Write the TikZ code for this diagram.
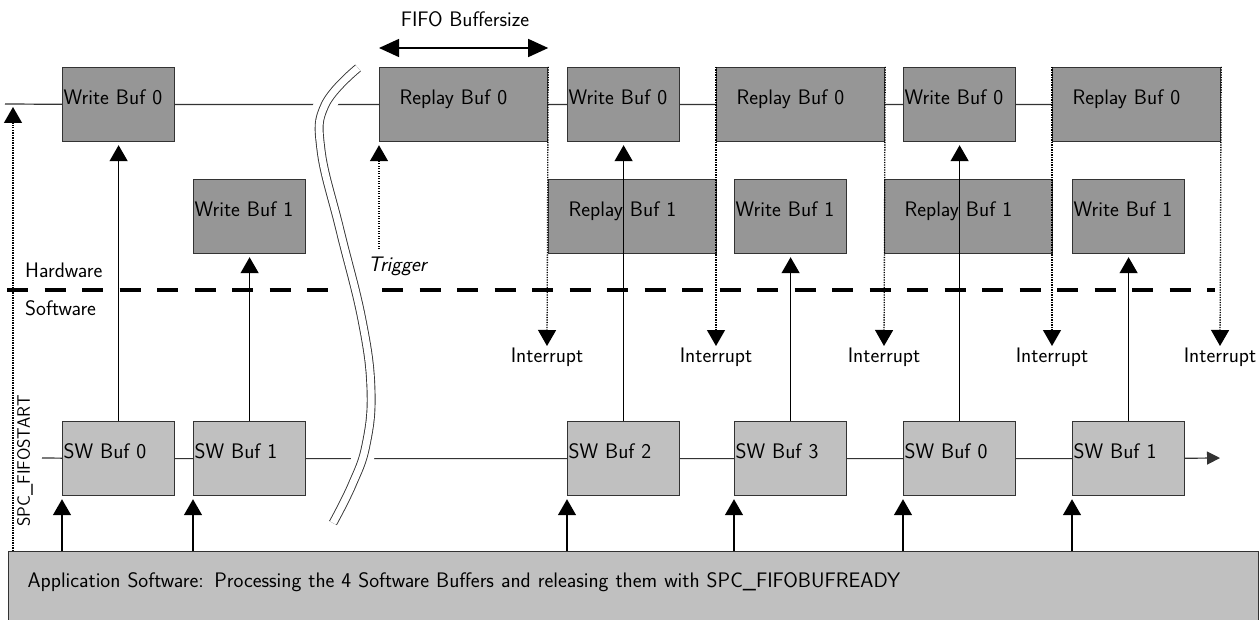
\documentclass[tikz,border=0pt]{standalone}
\usepackage{tikz}
\usetikzlibrary{arrows.meta}
\definecolor{hwfill}{HTML}{969696}
\definecolor{swfill}{HTML}{C0C0C0}
\definecolor{edgeclr}{HTML}{333333}
\newcommand\diafont{\fontsize{21}{25}\selectfont\sffamily}
\tikzset{
  buf/.style     = {draw=edgeclr,line width=1.2pt,anchor=north west,
                    minimum height=74pt,align=left,text height=0pt,
                    text depth=0pt,font=\diafont},
  wbuf/.style    = {buf,fill=hwfill,inner xsep=1pt,text width=110pt},
  rbuf/.style    = {buf,fill=hwfill,inner xsep=20pt,text width=128pt},
  swbuf/.style   = {buf,fill=swfill,inner xsep=1pt,text width=110pt},
  appbox/.style  = {buf,fill=swfill,inner xsep=19pt,text width=1212pt,
                    minimum height=72pt},
  lbl/.style     = {font=\diafont,inner sep=1pt},
  tline/.style   = {draw=edgeclr,line width=1.2pt},
  sig/.style     = {-{Triangle[length=16pt,width=18pt]},line width=1.4pt,
                    shorten >=3pt},
  irq/.style     = {-{Triangle[length=16pt,width=18pt]},line width=1.3pt,
                    dash pattern=on 1.2pt off 1.3pt},
  sizearr/.style = {{Triangle[length=20pt,width=18pt]}-{Triangle[length=20pt,width=18pt]},
                    line width=1.4pt},
  sepline/.style = {line width=4.5pt,dash pattern=on 21pt off 16.5pt},
}

\begin{document}
\begin{tikzpicture}[x=1pt,y=-1pt]
    \useasboundingbox (0,0) rectangle (1260,620);
    \clip (0,0) rectangle (1260,620);
    % hardware buffers
    \node[wbuf] (wA)  at (62,67)   {Write Buf 0};
    \node[rbuf] (rA)  at (379,67)  {Replay Buf 0};
    \node[wbuf] (wB)  at (567,67)  {Write Buf 0};
    \node[rbuf] (rB)  at (716,67)  {Replay Buf 0};
    \node[wbuf] (wC)  at (903,67)  {Write Buf 0};
    \node[rbuf] (rC)  at (1052,67) {Replay Buf 0};
    \node[wbuf] (w1A) at (193,179) {Write Buf 1};
    \node[rbuf] (r1A) at (548,179) {Replay Buf 1};
    \node[wbuf] (w1B) at (734,179) {Write Buf 1};
    \node[rbuf] (r1B) at (884,179) {Replay Buf 1};
    \node[wbuf] (w1C) at (1072,179) {Write Buf 1};
    % software buffers
    \node[swbuf] (sw0) at (62,421)   {SW Buf 0};
    \node[swbuf] (sw1) at (193,421)  {SW Buf 1};
    \node[swbuf] (sw2) at (567,421)  {SW Buf 2};
    \node[swbuf] (sw3) at (734,421)  {SW Buf 3};
    \node[swbuf] (sw4) at (903,421)  {SW Buf 0};
    \node[swbuf] (sw5) at (1072,421) {SW Buf 1};
    \node[appbox] (app) at (8,551) {Application Software: Processing the 4 Software Buffers and releasing them with SPC\_FIFOBUFREADY};

    % time lines
    \coordinate (tl0) at (5,104);
    \coordinate (bl0) at (42,458);
    \coordinate (bl1) at (1220,458);
    \draw[tline] (tl0) -- (wA) -- (rA) -- (wB) -- (rB) -- (wC) -- (rC);
    \draw[tline] (bl0) -- (sw0) -- (sw1) -- (sw2) -- (sw3) -- (sw4) -- (sw5);
    \draw[tline,-{Triangle[length=13pt,width=13pt]}] (sw5) -- (bl1);

    % hardware / software border
    \coordinate (sep0) at (7,290);
    \coordinate (sep1) at (1215,290);
    \draw[sepline] (sep0) -- (sep1);
    \node[lbl,anchor=base west] (hw) at (24,277) {Hardware};
    \node[lbl,anchor=base west] (sw) at (24,315) {Software};

    % time break
    \draw[white,line width=22pt] plot[smooth,tension=0.7] coordinates
      {(358,68) (325,105) (321,150) (340,230) (362,320) (371,390) (366,445) (352,485) (333,523)};
    \draw[edgeclr,double,line width=0.9pt,double distance=7pt] plot[smooth,tension=0.7] coordinates
      {(358,68) (325,105) (321,150) (340,230) (362,320) (371,390) (366,445) (352,485) (333,523)};

    % data flow
    \foreach \b in {sw0,sw1,sw2,sw3,sw4,sw5}
      \draw[sig] (\b.south west |- app.north) -- (\b.south west);
    \foreach \s/\h in {sw0/wA,sw1/w1A,sw2/wB,sw3/w1B,sw4/wC,sw5/w1C}
      \draw[sig] (\s) -- (\h);

    % interrupts
    \foreach \x [count=\k] in {547,716,884,1052,1220}
      \node[lbl,anchor=north,inner ysep=2pt] (int\k) at (\x,346) {Interrupt};
    \foreach \c [count=\k] in {rA.north east,rB.north west,rB.north east,rC.north west,rC.north east}
      \draw[irq] (\c) -- (int\k.north);

    % trigger and start
    \node[lbl,anchor=base west,font=\diafont\itshape] (trig) at (367,272) {Trigger};
    \draw[irq,shorten >=3pt,shorten <=7pt] (rA.south west |- trig.north) -- (rA.south west);
    \coordinate (fs) at (13,107);
    \draw[irq] (fs |- app.north) -- (fs);
    \node[lbl,rotate=90,font=\fontsize{18}{21}\selectfont\sffamily] (fss) at (25,461) {SPC\_FIFOSTART};

    % fifo size
    \draw[sizearr] ([yshift=19pt]rA.north west) -- ([yshift=19pt]rA.north east);
    \node[lbl,anchor=base] (fifo) at (465,27) {FIFO Buffersize};
  \end{tikzpicture}
\end{document}
